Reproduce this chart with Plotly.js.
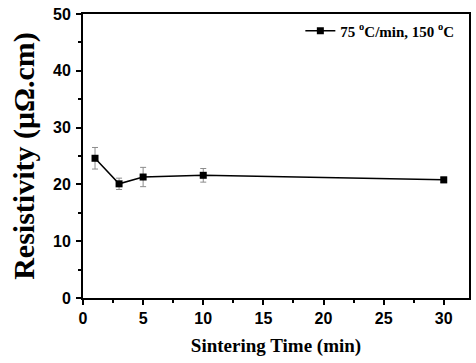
<!DOCTYPE html>
<html>
<head>
<meta charset="utf-8">
<script src="https://cdn.plot.ly/plotly-3.0.1.min.js"></script>
<style>html,body{margin:0;padding:0;background:#fff;}#chart{width:476px;height:363px;}</style>
</head>
<body>
<div id="chart"></div>
<script>
const sinteringTime = [1, 3, 5, 10, 30];
const resistivity = [24.6, 20.1, 21.3, 21.6, 20.8];
const resistivityErr = [1.9, 1.0, 1.7, 1.2, 0.5];
const seriesName = '75 <sup>o</sup>C/min, 150 <sup>o</sup>C';
const xTicks = [0, 5, 10, 15, 20, 25, 30];
const yTicks = [0, 10, 20, 30, 40, 50];

const trace = {
  x: sinteringTime,
  y: resistivity,
  error_y: {type: 'data', array: resistivityErr, visible: true, color: '#8c8c8c', thickness: 1, width: 3},
  mode: 'lines+markers',
  type: 'scatter',
  name: seriesName,
  line: {color: '#000', width: 1.5},
  marker: {symbol: 'square', size: 7, color: '#000'}
};

const tickFont = {family: 'Liberation Sans, Arial, sans-serif', size: 16, color: '#000', weight: 'bold'};

const layout = {
  width: 476, height: 363,
  margin: {l: 83, r: 7, t: 14, b: 65},
  paper_bgcolor: '#fff', plot_bgcolor: '#fff',
  showlegend: true,
  legend: {x: 0.975, y: 0.94, xanchor: 'right', yanchor: 'middle', bgcolor: 'rgba(0,0,0,0)',
    font: {family: 'Liberation Serif, Times New Roman, serif', size: 15, color: '#000', weight: 'bold'}},
  xaxis: {
    range: [0, 32.1], tickvals: xTicks, ticktext: xTicks.map(String),
    showline: true, linecolor: '#000', linewidth: 2, mirror: true,
    ticks: 'outside', ticklen: 5, tickwidth: 2, tickcolor: '#000',
    minor: {tickvals: [2.5, 7.5, 12.5, 17.5, 22.5, 27.5], ticks: 'outside', ticklen: 3, tickwidth: 2, tickcolor: '#000'},
    showgrid: false, zeroline: false, tickfont: tickFont,
    title: {text: 'Sintering Time (min)', standoff: 12,
      font: {family: 'Liberation Serif, Times New Roman, serif', size: 19, color: '#000', weight: 'bold'}}
  },
  yaxis: {
    range: [0, 50], tickvals: yTicks, ticktext: yTicks.map(String),
    showline: true, linecolor: '#000', linewidth: 2, mirror: true,
    ticks: 'outside', ticklen: 5, tickwidth: 2, tickcolor: '#000', ticklabelstandoff: 2,
    minor: {tickvals: [5, 15, 25, 35, 45], ticks: 'outside', ticklen: 3, tickwidth: 2, tickcolor: '#000'},
    showgrid: false, zeroline: false, tickfont: tickFont,
    title: {text: 'Resistivity (μΩ.cm)', standoff: 10,
      font: {family: 'Liberation Serif, Times New Roman, serif', size: 30, color: '#000', weight: 'bold'}}
  }
};

Plotly.newPlot('chart', [trace], layout, {displayModeBar: false, staticPlot: true});
</script>
</body>
</html>
